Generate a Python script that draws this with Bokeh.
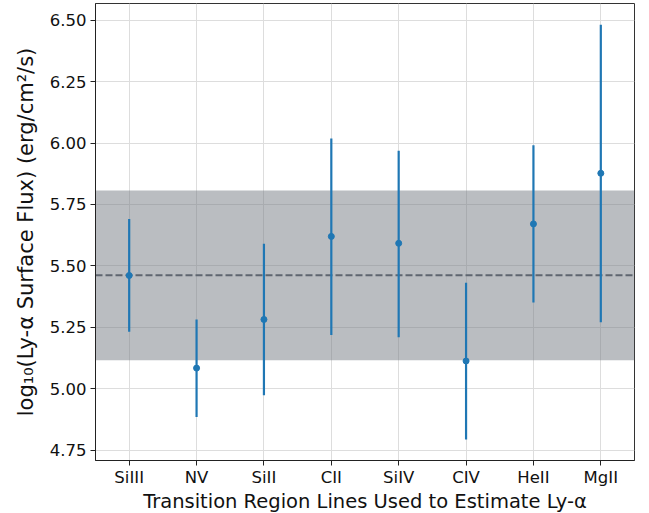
from bokeh.plotting import figure
from bokeh.models import ColumnDataSource, BoxAnnotation, Span, FixedTicker, Range1d
from bokeh.embed import file_html
from bokeh.resources import INLINE

# Ly-alpha surface flux estimated from each transition-region line
lines = ["SiIII", "NV", "SiII", "CII", "SiIV", "CIV", "HeII", "MgII"]
log_flux = [5.461, 5.084, 5.282, 5.620, 5.592, 5.113, 5.671, 5.877]
err_low = [5.232, 4.885, 4.974, 5.219, 5.210, 4.793, 5.351, 5.271]
err_high = [5.691, 5.282, 5.590, 6.019, 5.969, 5.431, 5.991, 6.482]

# adopted value and its uncertainty band
adopted = 5.462
band_low = 5.116
band_high = 5.807

y_ticks = [4.75, 5.00, 5.25, 5.50, 5.75, 6.00, 6.25, 6.50]

src = ColumnDataSource(dict(line=lines, flux=log_flux, lo=err_low, hi=err_high))

FONT = "DejaVu Sans"
BLUE = "#1f77b4"

p = figure(
    x_range=lines,
    y_range=Range1d(4.708, 6.568),
    frame_width=539, frame_height=457,
    min_border_left=95, min_border_right=15,
    min_border_top=3, min_border_bottom=53,
    output_backend="svg", toolbar_location=None,
    background_fill_color="white", border_fill_color="white",
)

p.outline_line_color = "#333333"
p.outline_line_width = 1

# grid
for g in (p.xgrid, p.ygrid):
    g.grid_line_color = "#dddddd"
    g.grid_line_width = 1

# uncertainty band and adopted value
band = BoxAnnotation(bottom=band_low, top=band_high, fill_color="#767c84",
                     fill_alpha=0.5, line_color=None, level="underlay")
p.add_layout(band)
p.add_layout(Span(location=adopted, dimension="width", line_color="#5f6670",
                  line_width=2, line_dash="7 3", level="underlay"))

# error bars and points
p.segment(x0="line", y0="lo", x1="line", y1="hi", source=src,
          line_color=BLUE, line_width=2.2)
p.scatter(x="line", y="flux", source=src, size=6, fill_color=BLUE, line_color=BLUE)

# axes
p.yaxis.ticker = FixedTicker(ticks=y_ticks)
p.yaxis.major_label_overrides = {t: f"{t:.2f}" for t in y_ticks}
for ax in (p.xaxis, p.yaxis):
    ax.axis_line_color = "#222222"
    ax.major_tick_line_color = "#222222"
    ax.major_tick_out = 5
    ax.major_tick_in = 0
    ax.minor_tick_line_color = None
    ax.major_label_text_font = FONT
    ax.major_label_text_font_size = "16.5px"
    ax.major_label_text_color = "#111111"
    ax.axis_label_text_font = FONT
    ax.axis_label_text_font_style = "normal"
    ax.axis_label_text_color = "#111111"

p.xaxis.axis_label = "Transition Region Lines Used to Estimate Ly-\u03b1"
p.yaxis.axis_label = "log\u2081\u2080(Ly-\u03b1 Surface Flux) (erg/cm\u00b2/s)"
p.xaxis.axis_label_text_font_size = "19.5px"
p.yaxis.axis_label_text_font_size = "21px"
p.xaxis.major_label_standoff = 2
p.xaxis.axis_label_standoff = 0
p.yaxis.major_label_standoff = 4
p.yaxis.axis_label_standoff = 9

open("out.html", "w").write(file_html(p, INLINE))
